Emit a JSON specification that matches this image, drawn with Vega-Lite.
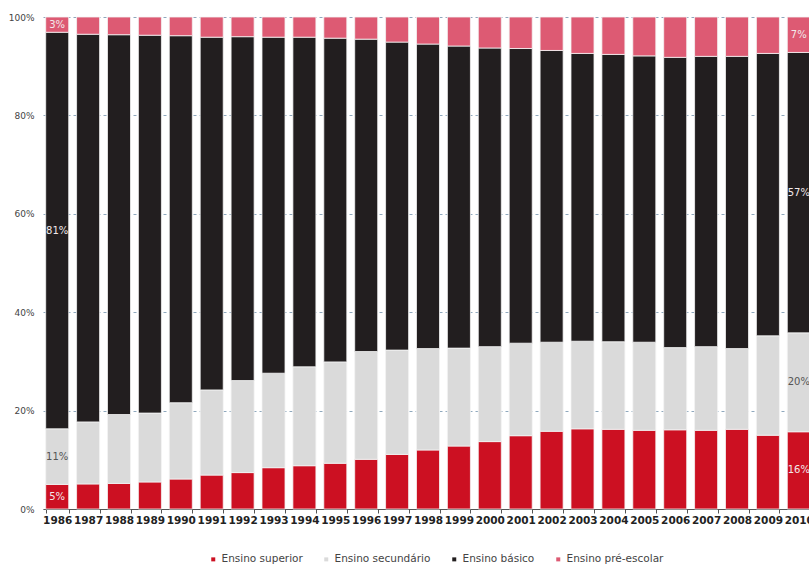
{
  "$schema": "https://vega.github.io/schema/vega-lite/v6.json",
  "width": 766,
  "height": 492,
  "autosize": {"type": "none"},
  "padding": {"left": 43, "top": 17, "right": 0, "bottom": 55},
  "background": "white",
  "config": {"view": {"stroke": null}, "font": "DejaVu Sans"},
  "data": {"values": [
    {"year": "1986", "cat": "Ensino superior", "ord": 1, "value": 5.0, "label": "5%"},
    {"year": "1986", "cat": "Ensino secundário", "ord": 2, "value": 11.3, "label": "11%"},
    {"year": "1986", "cat": "Ensino básico", "ord": 3, "value": 80.6, "label": "81%"},
    {"year": "1986", "cat": "Ensino pré-escolar", "ord": 4, "value": 3.1, "label": "3%"},
    {"year": "1987", "cat": "Ensino superior", "ord": 1, "value": 5.1},
    {"year": "1987", "cat": "Ensino secundário", "ord": 2, "value": 12.6},
    {"year": "1987", "cat": "Ensino básico", "ord": 3, "value": 78.8},
    {"year": "1987", "cat": "Ensino pré-escolar", "ord": 4, "value": 3.5},
    {"year": "1988", "cat": "Ensino superior", "ord": 1, "value": 5.2},
    {"year": "1988", "cat": "Ensino secundário", "ord": 2, "value": 14.0},
    {"year": "1988", "cat": "Ensino básico", "ord": 3, "value": 77.2},
    {"year": "1988", "cat": "Ensino pré-escolar", "ord": 4, "value": 3.6},
    {"year": "1989", "cat": "Ensino superior", "ord": 1, "value": 5.5},
    {"year": "1989", "cat": "Ensino secundário", "ord": 2, "value": 14.0},
    {"year": "1989", "cat": "Ensino básico", "ord": 3, "value": 76.8},
    {"year": "1989", "cat": "Ensino pré-escolar", "ord": 4, "value": 3.7},
    {"year": "1990", "cat": "Ensino superior", "ord": 1, "value": 6.1},
    {"year": "1990", "cat": "Ensino secundário", "ord": 2, "value": 15.5},
    {"year": "1990", "cat": "Ensino básico", "ord": 3, "value": 74.6},
    {"year": "1990", "cat": "Ensino pré-escolar", "ord": 4, "value": 3.8},
    {"year": "1991", "cat": "Ensino superior", "ord": 1, "value": 6.9},
    {"year": "1991", "cat": "Ensino secundário", "ord": 2, "value": 17.3},
    {"year": "1991", "cat": "Ensino básico", "ord": 3, "value": 71.7},
    {"year": "1991", "cat": "Ensino pré-escolar", "ord": 4, "value": 4.1},
    {"year": "1992", "cat": "Ensino superior", "ord": 1, "value": 7.4},
    {"year": "1992", "cat": "Ensino secundário", "ord": 2, "value": 18.7},
    {"year": "1992", "cat": "Ensino básico", "ord": 3, "value": 69.9},
    {"year": "1992", "cat": "Ensino pré-escolar", "ord": 4, "value": 4.0},
    {"year": "1993", "cat": "Ensino superior", "ord": 1, "value": 8.4},
    {"year": "1993", "cat": "Ensino secundário", "ord": 2, "value": 19.2},
    {"year": "1993", "cat": "Ensino básico", "ord": 3, "value": 68.3},
    {"year": "1993", "cat": "Ensino pré-escolar", "ord": 4, "value": 4.1},
    {"year": "1994", "cat": "Ensino superior", "ord": 1, "value": 8.8},
    {"year": "1994", "cat": "Ensino secundário", "ord": 2, "value": 20.1},
    {"year": "1994", "cat": "Ensino básico", "ord": 3, "value": 67.0},
    {"year": "1994", "cat": "Ensino pré-escolar", "ord": 4, "value": 4.1},
    {"year": "1995", "cat": "Ensino superior", "ord": 1, "value": 9.3},
    {"year": "1995", "cat": "Ensino secundário", "ord": 2, "value": 20.6},
    {"year": "1995", "cat": "Ensino básico", "ord": 3, "value": 65.8},
    {"year": "1995", "cat": "Ensino pré-escolar", "ord": 4, "value": 4.3},
    {"year": "1996", "cat": "Ensino superior", "ord": 1, "value": 10.1},
    {"year": "1996", "cat": "Ensino secundário", "ord": 2, "value": 21.9},
    {"year": "1996", "cat": "Ensino básico", "ord": 3, "value": 63.5},
    {"year": "1996", "cat": "Ensino pré-escolar", "ord": 4, "value": 4.5},
    {"year": "1997", "cat": "Ensino superior", "ord": 1, "value": 11.1},
    {"year": "1997", "cat": "Ensino secundário", "ord": 2, "value": 21.2},
    {"year": "1997", "cat": "Ensino básico", "ord": 3, "value": 62.6},
    {"year": "1997", "cat": "Ensino pré-escolar", "ord": 4, "value": 5.1},
    {"year": "1998", "cat": "Ensino superior", "ord": 1, "value": 12.0},
    {"year": "1998", "cat": "Ensino secundário", "ord": 2, "value": 20.6},
    {"year": "1998", "cat": "Ensino básico", "ord": 3, "value": 61.9},
    {"year": "1998", "cat": "Ensino pré-escolar", "ord": 4, "value": 5.5},
    {"year": "1999", "cat": "Ensino superior", "ord": 1, "value": 12.8},
    {"year": "1999", "cat": "Ensino secundário", "ord": 2, "value": 19.9},
    {"year": "1999", "cat": "Ensino básico", "ord": 3, "value": 61.4},
    {"year": "1999", "cat": "Ensino pré-escolar", "ord": 4, "value": 5.9},
    {"year": "2000", "cat": "Ensino superior", "ord": 1, "value": 13.7},
    {"year": "2000", "cat": "Ensino secundário", "ord": 2, "value": 19.3},
    {"year": "2000", "cat": "Ensino básico", "ord": 3, "value": 60.7},
    {"year": "2000", "cat": "Ensino pré-escolar", "ord": 4, "value": 6.3},
    {"year": "2001", "cat": "Ensino superior", "ord": 1, "value": 14.9},
    {"year": "2001", "cat": "Ensino secundário", "ord": 2, "value": 18.8},
    {"year": "2001", "cat": "Ensino básico", "ord": 3, "value": 59.9},
    {"year": "2001", "cat": "Ensino pré-escolar", "ord": 4, "value": 6.4},
    {"year": "2002", "cat": "Ensino superior", "ord": 1, "value": 15.8},
    {"year": "2002", "cat": "Ensino secundário", "ord": 2, "value": 18.1},
    {"year": "2002", "cat": "Ensino básico", "ord": 3, "value": 59.3},
    {"year": "2002", "cat": "Ensino pré-escolar", "ord": 4, "value": 6.8},
    {"year": "2003", "cat": "Ensino superior", "ord": 1, "value": 16.3},
    {"year": "2003", "cat": "Ensino secundário", "ord": 2, "value": 17.8},
    {"year": "2003", "cat": "Ensino básico", "ord": 3, "value": 58.5},
    {"year": "2003", "cat": "Ensino pré-escolar", "ord": 4, "value": 7.4},
    {"year": "2004", "cat": "Ensino superior", "ord": 1, "value": 16.2},
    {"year": "2004", "cat": "Ensino secundário", "ord": 2, "value": 17.8},
    {"year": "2004", "cat": "Ensino básico", "ord": 3, "value": 58.4},
    {"year": "2004", "cat": "Ensino pré-escolar", "ord": 4, "value": 7.6},
    {"year": "2005", "cat": "Ensino superior", "ord": 1, "value": 16.0},
    {"year": "2005", "cat": "Ensino secundário", "ord": 2, "value": 17.9},
    {"year": "2005", "cat": "Ensino básico", "ord": 3, "value": 58.2},
    {"year": "2005", "cat": "Ensino pré-escolar", "ord": 4, "value": 7.9},
    {"year": "2006", "cat": "Ensino superior", "ord": 1, "value": 16.1},
    {"year": "2006", "cat": "Ensino secundário", "ord": 2, "value": 16.7},
    {"year": "2006", "cat": "Ensino básico", "ord": 3, "value": 59.0},
    {"year": "2006", "cat": "Ensino pré-escolar", "ord": 4, "value": 8.2},
    {"year": "2007", "cat": "Ensino superior", "ord": 1, "value": 16.0},
    {"year": "2007", "cat": "Ensino secundário", "ord": 2, "value": 17.0},
    {"year": "2007", "cat": "Ensino básico", "ord": 3, "value": 59.0},
    {"year": "2007", "cat": "Ensino pré-escolar", "ord": 4, "value": 8.0},
    {"year": "2008", "cat": "Ensino superior", "ord": 1, "value": 16.2},
    {"year": "2008", "cat": "Ensino secundário", "ord": 2, "value": 16.4},
    {"year": "2008", "cat": "Ensino básico", "ord": 3, "value": 59.4},
    {"year": "2008", "cat": "Ensino pré-escolar", "ord": 4, "value": 8.0},
    {"year": "2009", "cat": "Ensino superior", "ord": 1, "value": 15.0},
    {"year": "2009", "cat": "Ensino secundário", "ord": 2, "value": 20.2},
    {"year": "2009", "cat": "Ensino básico", "ord": 3, "value": 57.4},
    {"year": "2009", "cat": "Ensino pré-escolar", "ord": 4, "value": 7.4},
    {"year": "2010", "cat": "Ensino superior", "ord": 1, "value": 15.7, "label": "16%"},
    {"year": "2010", "cat": "Ensino secundário", "ord": 2, "value": 20.1, "label": "20%"},
    {"year": "2010", "cat": "Ensino básico", "ord": 3, "value": 57.0, "label": "57%"},
    {"year": "2010", "cat": "Ensino pré-escolar", "ord": 4, "value": 7.2, "label": "7%"}
  ]},
  "transform": [
    {"stack": "value", "groupby": ["year"], "sort": [{"field": "ord", "order": "ascending"}], "offset": "normalize", "as": ["s0", "s1"]}
  ],
  "encoding": {
    "x": {
      "field": "year", "type": "ordinal",
      "scale": {"range": [0, 770], "paddingInner": 0.255, "paddingOuter": 0.087},
      "axis": {
        "title": null, "labelAngle": 0, "labelFont": "DejaVu Sans", "labelFontWeight": "bold",
        "labelFontSize": 10.5, "labelColor": "#222", "domainColor": "#555", "tickColor": "#555",
        "tickBand": "extent", "tickSize": 4, "labelPadding": 2, "grid": false
      }
    }
  },
  "layer": [
    {
      "mark": {"type": "bar", "stroke": "#f4f4f4", "strokeWidth": 0.8},
      "encoding": {
        "y": {
          "field": "s0", "type": "quantitative", "scale": {"domain": [0, 1]},
          "axis": {
            "title": null, "format": ".0%", "values": [0, 0.2, 0.4, 0.6, 0.8, 1],
            "domain": false, "ticks": false, "labelFontSize": 9, "labelColor": "#444",
            "labelPadding": 9, "grid": true, "gridColor": "#8fa8bd", "gridDash": [3, 3], "gridWidth": 1
          }
        },
        "y2": {"field": "s1"},
        "color": {
          "field": "cat", "type": "nominal",
          "scale": {
            "domain": ["Ensino superior", "Ensino secundário", "Ensino básico", "Ensino pré-escolar"],
            "range": ["#cc1022", "#dadada", "#221e1f", "#dd5a73"]
          },
          "legend": {
            "orient": "none", "legendX": 165, "legendY": 537, "direction": "horizontal", "title": null,
            "symbolType": "square", "symbolSize": 16, "symbolStrokeWidth": 0, "labelFontSize": 10.5,
            "labelColor": "#444", "columnPadding": 18, "labelOffset": 3
          }
        }
      }
    },
    {
      "transform": [
        {"filter": "isValid(datum.label)"},
        {"fold": ["s0", "s1"], "as": ["k", "v"]},
        {"aggregate": [{"op": "mean", "field": "v", "as": "mid"}], "groupby": ["year", "cat", "label"]}
      ],
      "mark": {"type": "text", "fontSize": 10, "font": "DejaVu Sans"},
      "encoding": {
        "y": {"field": "mid", "type": "quantitative"},
        "text": {"field": "label"},
        "color": {"condition": {"test": "datum.cat === 'Ensino secundário'", "value": "#555"}, "value": "#f2e9ea"}
      }
    }
  ]
}
